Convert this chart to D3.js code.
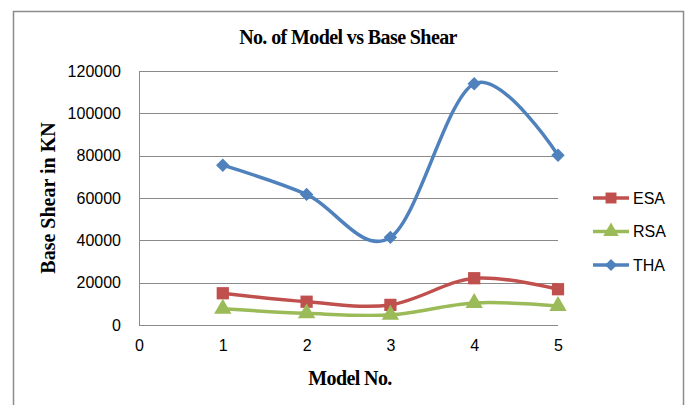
<!DOCTYPE html>
<html>
<head>
<meta charset="utf-8">
<script src="https://cdn.jsdelivr.net/npm/d3@7"></script>
<style>
  body { margin: 0; background: #fff; }
  svg text { fill: #000; }
</style>
</head>
<body>
<div class="chart"></div>
<script>
// data
var models = [1, 2, 3, 4, 5];
var esa = [15000, 11000, 9500, 22100, 16900];
var rsa = [7700, 5500, 4800, 10400, 9000];
var tha = [75500, 61700, 41400, 114000, 80200];
var yTicks = [0, 20000, 40000, 60000, 80000, 100000, 120000];
var xTicks = [0, 1, 2, 3, 4, 5];

var series = [
  { name: 'ESA', values: esa, color: '#C0504D', shape: d3.symbolSquare, size: 150, rot: 0 },
  { name: 'RSA', values: rsa, color: '#9BBB59', shape: d3.symbolTriangle, size: 130, rot: 0 },
  { name: 'THA', values: tha, color: '#4F81BD', shape: d3.symbolSquare, size: 90, rot: 45 }
];

var W = 686, H = 405;
var margin = { top: 71, left: 139, right: 128, bottom: 80 };

var svg = d3.select('.chart').append('svg')
  .attr('width', W)
  .attr('height', H);

// chart border
svg.append('rect')
  .attr('x', 13.5).attr('y', 11.5)
  .attr('width', 670).attr('height', 420)
  .style('fill', 'none')
  .style('stroke', '#8c8c8c')
  .style('stroke-width', 1.5);

var x = d3.scaleLinear().domain([0, 5]).range([margin.left, W - margin.right]);
var y = d3.scaleLinear().domain([0, 120000]).range([H - margin.bottom, margin.top]);

// gridlines
svg.selectAll('.grid')
  .data(yTicks)
  .enter().append('line')
  .attr('class', 'grid')
  .attr('x1', x(0)).attr('x2', x(5))
  .attr('y1', function(d) { return Math.round(y(d)) + 0.5; })
  .attr('y2', function(d) { return Math.round(y(d)) + 0.5; })
  .style('stroke', '#8a8a8a')
  .style('stroke-width', 1);

// y axis line
svg.append('line')
  .attr('x1', x(0) + 0.5).attr('x2', x(0) + 0.5)
  .attr('y1', y(0)).attr('y2', y(120000))
  .style('stroke', '#8a8a8a');

// y axis
var yAxis = d3.axisLeft(y).tickValues(yTicks).tickFormat(d3.format('d')).tickSize(0).tickPadding(18);
svg.append('g')
  .attr('transform', 'translate(' + x(0) + ',0)')
  .call(yAxis)
  .call(function(g) { g.select('.domain').remove(); })
  .selectAll('text')
  .style('font-family', '"Liberation Sans", Arial, sans-serif')
  .style('font-size', '16px');

// x axis
var xAxis = d3.axisBottom(x).tickValues(xTicks).tickFormat(d3.format('d')).tickSize(0).tickPadding(15);
svg.append('g')
  .attr('transform', 'translate(0,' + y(0) + ')')
  .call(xAxis)
  .call(function(g) { g.select('.domain').remove(); })
  .selectAll('text')
  .style('font-family', '"Liberation Sans", Arial, sans-serif')
  .style('font-size', '16px');

var line = d3.line()
  .x(function(d, i) { return x(models[i]); })
  .y(function(d) { return y(d); })
  .curve(d3.curveCatmullRom.alpha(0));

series.forEach(function(s) {
  svg.append('path')
    .datum(s.values)
    .attr('d', line)
    .style('fill', 'none')
    .style('stroke', s.color)
    .style('stroke-width', 3.5);

  svg.selectAll('.pt-' + s.name)
    .data(s.values)
    .enter().append('path')
    .attr('class', 'pt-' + s.name)
    .attr('transform', function(d, i) {
      return 'translate(' + x(models[i]) + ',' + y(d) + ') rotate(' + s.rot + ')';
    })
    .attr('d', d3.symbol().type(s.shape).size(s.size))
    .style('fill', s.color);
});

// legend
var legend = svg.selectAll('.legend')
  .data(series)
  .enter().append('g')
  .attr('class', 'legend')
  .attr('transform', function(d, i) { return 'translate(593,' + (198 + i * 33.5) + ')'; });

legend.append('line')
  .attr('x1', 0).attr('x2', 36)
  .style('stroke', function(d) { return d.color; })
  .style('stroke-width', 3.5);

legend.append('path')
  .attr('transform', function(d) { return 'translate(18,0) rotate(' + d.rot + ')'; })
  .attr('d', function(d) { return d3.symbol().type(d.shape).size(d.size * 0.8)(); })
  .style('fill', function(d) { return d.color; });

legend.append('text')
  .attr('x', 40)
  .attr('dy', '0.35em')
  .style('font-family', '"Liberation Sans", Arial, sans-serif')
  .style('font-size', '16px')
  .text(function(d) { return d.name; });

// titles
svg.append('text')
  .attr('x', 348).attr('y', 44)
  .attr('text-anchor', 'middle')
  .style('font-family', '"Liberation Serif", "Times New Roman", serif')
  .style('font-weight', 'bold')
  .style('font-size', '20px')
  .style('letter-spacing', '-0.6px')
  .text('No. of Model vs Base Shear');

svg.append('text')
  .attr('transform', 'translate(55,198) rotate(-90)')
  .attr('text-anchor', 'middle')
  .style('font-family', '"Liberation Serif", "Times New Roman", serif')
  .style('font-weight', 'bold')
  .style('font-size', '20px')
  .text('Base Shear in KN');

svg.append('text')
  .attr('x', 350).attr('y', 385)
  .attr('text-anchor', 'middle')
  .style('font-family', '"Liberation Serif", "Times New Roman", serif')
  .style('font-weight', 'bold')
  .style('font-size', '20px')
  .style('letter-spacing', '-0.6px')
  .text('Model No.');
</script>
</body>
</html>
